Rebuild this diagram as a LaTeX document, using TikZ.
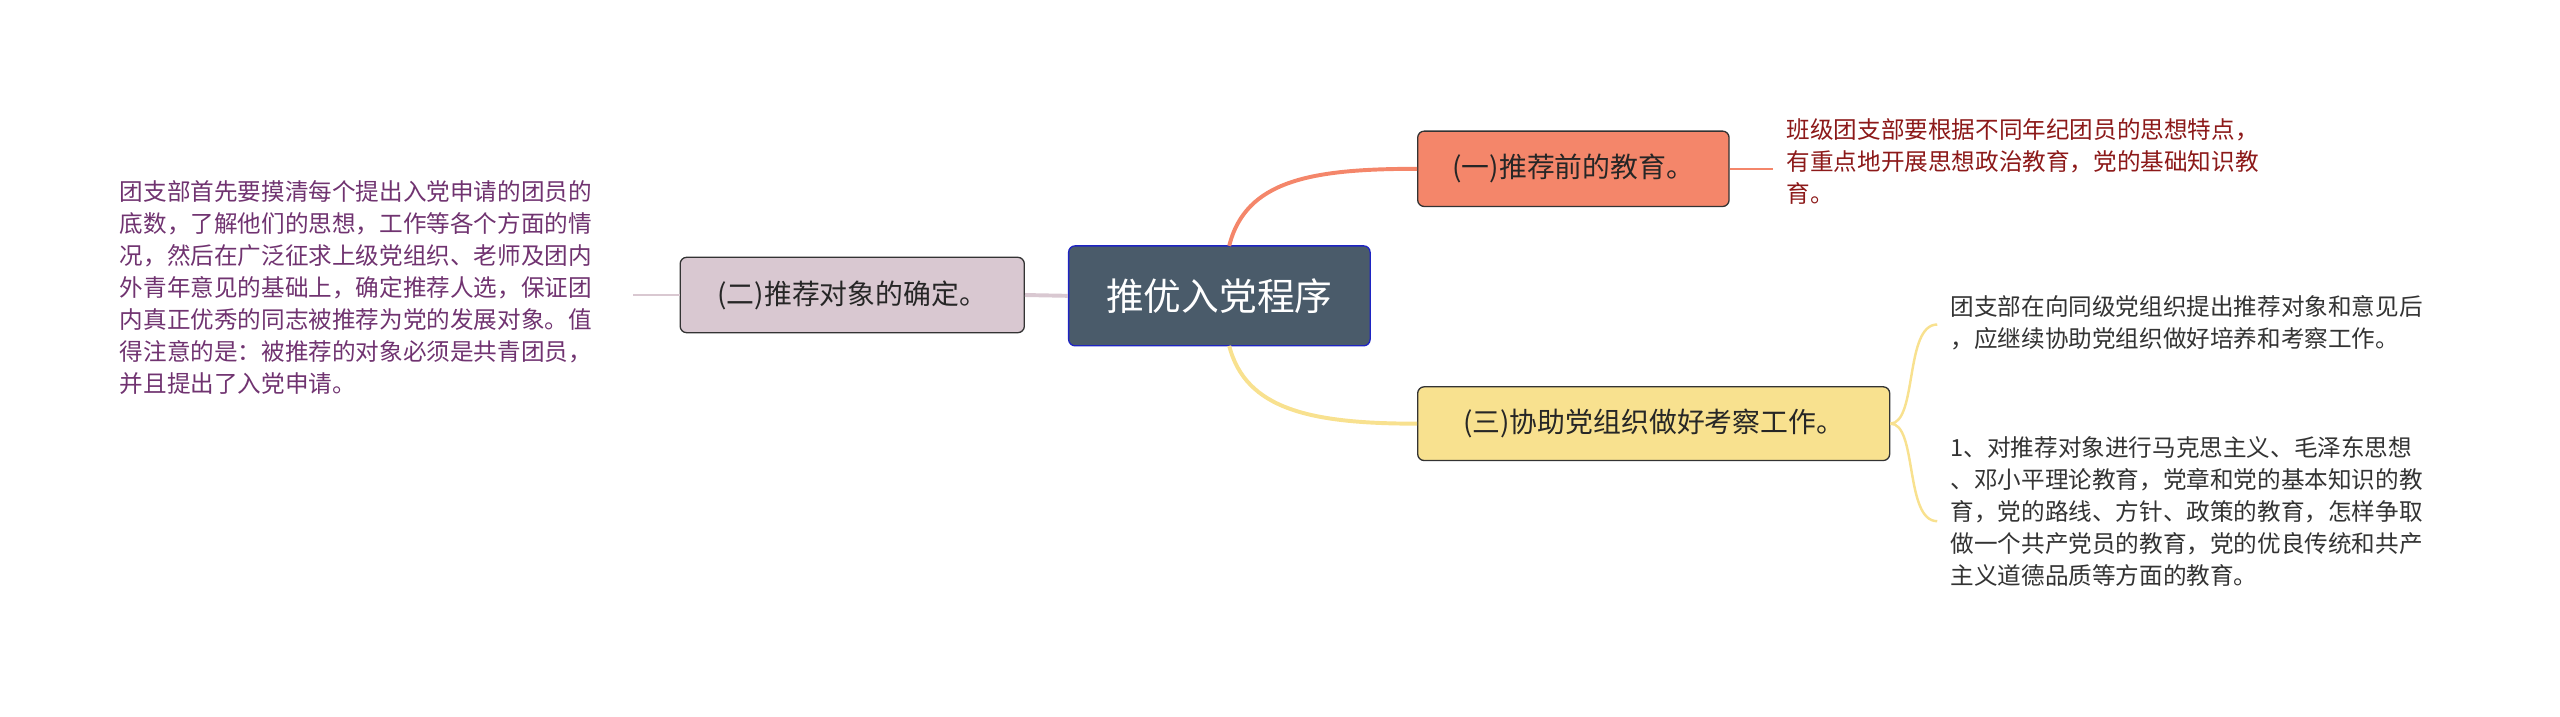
\documentclass[tikz,border=0pt]{standalone}
\usepackage{fontspec}
\setmainfont{Noto Sans CJK SC}
\begin{document}
\begin{tikzpicture}[x=1pt,y=-1pt,
  box/.style={draw=black!80,line width=0.8pt,rounded corners=4pt,inner sep=0pt,font=\fontsize{17}{20}\selectfont,text=black!85},
  note/.style={anchor=north west,align=left,inner sep=0pt,font=\fontsize{14.4}{19.5}\selectfont},
  con/.style={line width=2.4pt}]
\useasboundingbox (0,0) rectangle (1562,437);
\definecolor{cen}{HTML}{4A5B6A}
\definecolor{one}{HTML}{F4866A}
\definecolor{two}{HTML}{D9C8D1}
\definecolor{thr}{HTML}{F8E18F}
\node[box,fill=cen,draw=blue!60!cen,minimum width=184,minimum height=61,text=white,font=\fontsize{23}{26}\selectfont] (c) at (744,180.5) {推优入党程序};
\node[box,fill=one,minimum width=190,minimum height=46] (a) at (960,103) {(一)推荐前的教育。};
\node[box,fill=two,minimum width=210,minimum height=46] (b) at (520,180) {(二)推荐对象的确定。};
\node[box,fill=thr,minimum width=288,minimum height=45] (d) at (1009,258.5) {(三)协助党组织做好考察工作。};
\node[note,text=red!50!black!90] (ta) at (1090,72) {班级团支部要根据不同年纪团员的思想特点，\\有重点地开展思想政治教育，党的基础知识教\\育。};
\node[note,text=violet!60!black!80] (tb) at (73,110) {团支部首先要摸清每个提出入党申请的团员的\\底数，了解他们的思想，工作等各个方面的情\\况，然后在广泛征求上级党组织、老师及团内\\外青年意见的基础上，确定推荐人选，保证团\\内真正优秀的同志被推荐为党的发展对象。值\\得注意的是：被推荐的对象必须是共青团员，\\并且提出了入党申请。};
\node[note,text=black!80] (tc) at (1190,180) {团支部在向同级党组织提出推荐对象和意见后\\，应继续协助党组织做好培养和考察工作。};
\node[note,text=black!80] (td) at (1190,266) {1、对推荐对象进行马克思主义、毛泽东思想\\、邓小平理论教育，党章和党的基本知识的教\\育，党的路线、方针、政策的教育，怎样争取\\做一个共产党员的教育，党的优良传统和共产\\主义道德品质等方面的教育。};
\coordinate (ca) at (750,150);
\coordinate (cd) at (750,211);
\draw[con,one] (ca) .. controls (760,110) and (800,103) .. (a.west);
\draw[con,thr] (cd) .. controls (760,250) and (800,258.5) .. (d.west);
\draw[con,two] (c.west) -- (b.east);
\draw[line width=1.5pt,two] (b.west) -- (386,180);
\draw[line width=1.5pt,one] (a.east) -- (1082,103);
\coordinate (d1) at (1182,198);
\coordinate (d2) at (1182,318);
\draw[line width=1.5pt,thr] (d.east) .. controls (1170,258) and (1162,198) .. (d1);
\draw[line width=1.5pt,thr] (d.east) .. controls (1170,258) and (1162,318) .. (d2);
\end{tikzpicture}
\end{document}
